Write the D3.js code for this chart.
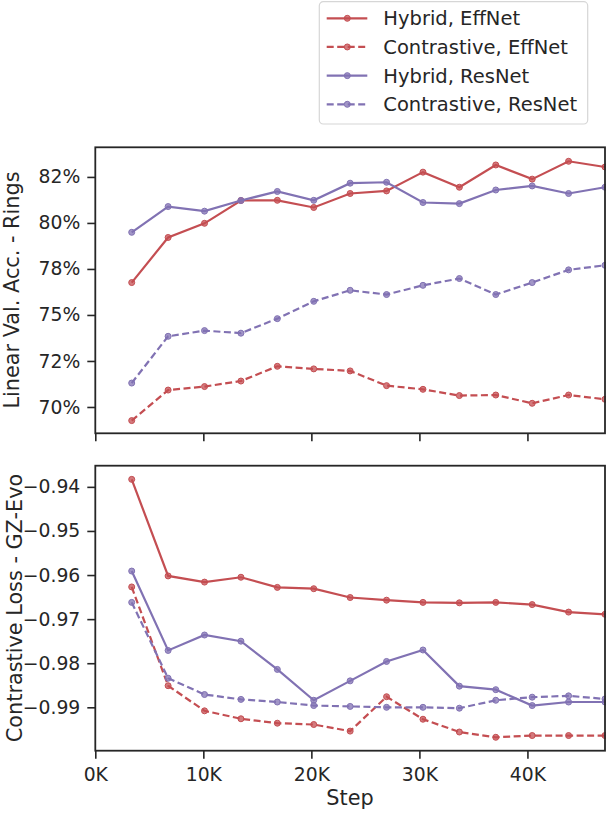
<!DOCTYPE html>
<html>
<head>
<meta charset="utf-8">
<script src="https://cdn.jsdelivr.net/npm/d3@7"></script>
<style>
  body { margin: 0; background: #fff; }
  text { font-family: "DejaVu Sans", sans-serif; fill: #262626; }
</style>
</head>
<body>
<script>
var w = 606, h = 814;

// training steps (one point per epoch)
var steps = [3370, 6740, 10110, 13480, 16850, 20220, 23590, 26960, 30330, 33700, 37070, 40440, 43810, 47180];

// linear validation accuracy on Rings
var accHybridEff = [0.7676, 0.7921, 0.7998, 0.8122, 0.8123, 0.8084, 0.8160, 0.8174, 0.8276, 0.8194, 0.8315, 0.8238, 0.8335, 0.8304];
var accContrEff  = [0.6926, 0.7092, 0.7111, 0.7141, 0.7221, 0.7207, 0.7196, 0.7116, 0.7096, 0.7062, 0.7065, 0.7020, 0.7065, 0.7042];
var accHybridRes = [0.7949, 0.8089, 0.8064, 0.8122, 0.8171, 0.8123, 0.8216, 0.8221, 0.8111, 0.8105, 0.8179, 0.8201, 0.8160, 0.8194];
var accContrRes  = [0.7130, 0.7384, 0.7415, 0.7401, 0.7480, 0.7574, 0.7634, 0.7611, 0.7661, 0.7698, 0.7611, 0.7676, 0.7745, 0.7770];

// contrastive loss on GZ-Evo
var lossHybridEff = [-0.9383, -0.9602, -0.9616, -0.9605, -0.9628, -0.9631, -0.9651, -0.9657, -0.9662, -0.9663, -0.9662, -0.9667, -0.9684, -0.9689];
var lossContrEff  = [-0.9627, -0.9851, -0.9908, -0.9926, -0.9936, -0.9939, -0.9954, -0.9876, -0.9927, -0.9956, -0.9968, -0.9964, -0.9964, -0.9964];
var lossHybridRes = [-0.9591, -0.9771, -0.9736, -0.9750, -0.9814, -0.9884, -0.9840, -0.9796, -0.9770, -0.9852, -0.9860, -0.9896, -0.9888, -0.9888];
var lossContrRes  = [-0.9662, -0.9834, -0.9871, -0.9882, -0.9888, -0.9896, -0.9898, -0.9900, -0.9900, -0.9902, -0.9884, -0.9877, -0.9874, -0.9881];

var seriesNames = ["Hybrid, EffNet", "Contrastive, EffNet", "Hybrid, ResNet", "Contrastive, ResNet"];
var seriesColors = ["#c44e52", "#c44e52", "#8172b3", "#8172b3"];
var seriesDashed = [false, true, false, true];

var accTicks = [0.70, 0.725, 0.75, 0.775, 0.80, 0.825];
var accTickLabels = ["70%", "72%", "75%", "78%", "80%", "82%"];
var lossTicks = [-0.94, -0.95, -0.96, -0.97, -0.98, -0.99];
var stepTicks = [0, 10000, 20000, 30000, 40000];

var svg = d3.select("body").append("svg")
  .attr("width", w).attr("height", h);

var x = d3.scaleLinear().domain([0, 47180]).range([95.3, 605]);

var yAcc = d3.scaleLinear().domain([0.6857, 0.8411]).range([433.3, 147.3]);
var yLoss = d3.scaleLinear().domain([-0.99984, -0.9352]).range([750.7, 465.7]);

var dark = "#262626";
var tickFont = "18.8px";

function drawPanel(y, data, ticks, tickFmt, showXLabels, top, bottom) {
  var g = svg.append("g");

  // y axis
  var ya = g.append("g").attr("transform", "translate(95.3,0)")
    .call(d3.axisLeft(y).tickValues(ticks).tickSize(8).tickPadding(7).tickFormat(tickFmt));
  ya.select(".domain").remove();
  ya.selectAll("line").attr("stroke", dark).attr("stroke-width", 1.6);
  ya.selectAll("text").style("font-size", tickFont).attr("fill", dark);

  // x axis
  var xa = g.append("g").attr("transform", "translate(0," + bottom + ")")
    .call(d3.axisBottom(x).tickValues(stepTicks).tickSize(8).tickPadding(9)
      .tickFormat(function(d) { return showXLabels ? (d / 1000) + "K" : ""; }));
  xa.select(".domain").remove();
  xa.selectAll("line").attr("stroke", dark).attr("stroke-width", 1.6);
  xa.selectAll("text").style("font-size", tickFont).attr("fill", dark);

  // lines
  var line = d3.line()
    .x(function(d, i) { return x(steps[i]); })
    .y(function(d) { return y(d); });

  data.forEach(function(vals, k) {
    g.append("path")
      .datum(vals)
      .attr("d", line)
      .attr("fill", "none")
      .attr("stroke", seriesColors[k])
      .attr("stroke-width", 2.2)
      .attr("stroke-dasharray", seriesDashed[k] ? "7,3.5" : null);
    g.selectAll(null).data(vals).enter().append("circle")
      .attr("cx", function(d, i) { return x(steps[i]); })
      .attr("cy", function(d) { return y(d); })
      .attr("r", 3)
      .attr("fill", seriesColors[k])
      .attr("fill-opacity", 0.75)
      .attr("stroke", seriesColors[k])
      .attr("stroke-width", 1);
  });

  // frame
  g.append("rect")
    .attr("x", 95.3).attr("y", top)
    .attr("width", 605 - 95.3).attr("height", bottom - top)
    .attr("fill", "none").attr("stroke", dark).attr("stroke-width", 1.8);
}

drawPanel(yAcc, [accHybridEff, accContrEff, accHybridRes, accContrRes],
  accTicks, function(d, i) { return accTickLabels[i]; }, false, 147.3, 433.3);

drawPanel(yLoss, [lossHybridEff, lossContrEff, lossHybridRes, lossContrRes],
  lossTicks, d3.format(".2f"), true, 465.7, 750.7);

// axis labels
svg.append("text")
  .attr("transform", "translate(18.5,290) rotate(-90)")
  .attr("text-anchor", "middle")
  .style("font-size", "20.8px")
  .text("Linear Val. Acc. - Rings");

svg.append("text")
  .attr("transform", "translate(21.5,608) rotate(-90)")
  .attr("text-anchor", "middle")
  .style("font-size", "20.8px")
  .text("Contrastive Loss - GZ-Evo");

svg.append("text")
  .attr("x", 350).attr("y", 805)
  .attr("text-anchor", "middle")
  .style("font-size", "20.8px")
  .text("Step");

// legend
var lg = svg.append("g");
lg.append("rect")
  .attr("x", 319.3).attr("y", 1.7)
  .attr("width", 268.4).attr("height", 122.3)
  .attr("rx", 4)
  .attr("fill", "#fff").attr("stroke", "#d6d6d6").attr("stroke-width", 1.2);

var rowY = d3.scaleLinear().domain([0, 3]).range([18.3, 104.3]);
seriesNames.forEach(function(name, k) {
  var yy = rowY(k);
  lg.append("line")
    .attr("x1", 326.7).attr("x2", 367.3)
    .attr("y1", yy).attr("y2", yy)
    .attr("stroke", seriesColors[k]).attr("stroke-width", 2.2)
    .attr("stroke-dasharray", seriesDashed[k] ? "7,3.5" : null);
  lg.append("circle")
    .attr("cx", 347.3).attr("cy", yy).attr("r", 3)
    .attr("fill", seriesColors[k]).attr("fill-opacity", 0.75)
    .attr("stroke", seriesColors[k]).attr("stroke-width", 1);
  lg.append("text")
    .attr("x", 383.3).attr("y", yy)
    .attr("dy", "0.36em")
    .style("font-size", "19.5px")
    .text(name);
});
</script>
</body>
</html>
